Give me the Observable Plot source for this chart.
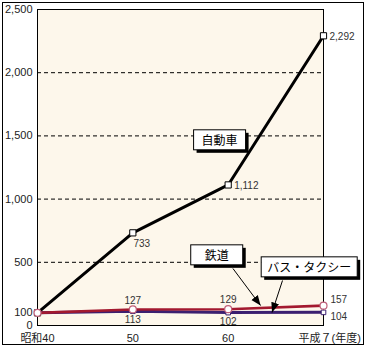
<!DOCTYPE html>
<html><head><meta charset="utf-8">
<script src="https://cdn.jsdelivr.net/npm/d3@7"></script>
<script src="https://cdn.jsdelivr.net/npm/@observablehq/plot@0.6"></script>
<style>
body{margin:0;background:#fff;font-family:"Liberation Sans","Noto Sans CJK JP",sans-serif;}
#wrap{position:relative;width:366px;height:353px;}
#wrap svg{position:absolute;left:0;top:0;}
#border{position:absolute;left:2px;top:2px;width:360px;height:341px;border:1px solid #000;pointer-events:none;z-index:2;}
</style></head>
<body><div id="wrap"><div id="border"></div></div>
<script>
// data (年度: 昭和40, 50, 60, 平成7 = 昭和70)
const years = [40, 50, 60, 70];
const yearLabels = ["昭和40", "50", "60", "平成７(年度)"];
const car = [100, 733, 1112, 2292];      // 自動車
const rail = [100, 127, 129, 157];       // 鉄道
const bus = [100, 113, 102, 104];        // バス・タクシー
const yTicks = [0, 100, 500, 1000, 1500, 2000, 2500];
const gridValues = [500, 1000, 1500, 2000];
// annotation labels (data coordinates)
const annNames = ["自動車", "鉄道", "バス・タクシー"];
const annX = [59.1, 58.8, 68.5];
const annY = [1456, 546, 451];
// arrows from labels to lines
const arrowFromX = [60.5, 65.7];
const arrowFromY = [451, 356];
const arrowToX = [63.4, 64.6];
const arrowToY = [158, 103];

const rows = (vals) => years.map((x, i) => ({x, y: vals[i], i}));
const carD = rows(car), railD = rows(rail), busD = rows(bus);
const ann = annNames.map((t, i) => ({t, x: annX[i], y: annY[i]}));
const arrows = arrowFromX.map((_, i) => ({x1: arrowFromX[i], y1: arrowFromY[i], x2: arrowToX[i], y2: arrowToY[i]}));
const fmt = d3.format(",");

function filledArrow(color, context) {
  const doc = (context && context.document) || document;
  const m = doc.createElementNS("http://www.w3.org/2000/svg", "marker");
  m.setAttribute("viewBox", "-10 -5 10 10");
  m.setAttribute("markerWidth", "10");
  m.setAttribute("markerHeight", "10");
  m.setAttribute("markerUnits", "userSpaceOnUse");
  m.setAttribute("orient", "auto");
  m.setAttribute("fill", "#000");
  m.setAttribute("stroke", "none");
  const p = doc.createElementNS("http://www.w3.org/2000/svg", "path");
  p.setAttribute("d", "M-10,-4L0,0L-10,4Z");
  m.appendChild(p);
  return m;
}

const RED = "#a3192f", NAVY = "#3b1f70";

const chart = Plot.plot({
  width: 366, height: 353,
  marginLeft: 37, marginRight: 43, marginTop: 9, marginBottom: 28,
  style: {fontFamily: '"Liberation Sans","Noto Sans CJK JP",sans-serif', fontSize: "10px", background: "transparent", overflow: "visible"},
  x: {domain: [40, 70]},
  y: {domain: [0, 2500]},
  marks: [
    Plot.frame({fill: "#fdf7eb", stroke: null}),
    Plot.ruleY(gridValues, {stroke: "#000", strokeDasharray: "4,3", strokeWidth: 1}),
    Plot.frame({stroke: "#000", strokeWidth: 1}),
    Plot.axisY({ticks: yTicks, tickFormat: fmt, tickSize: 0, tickPadding: 5, fontSize: 11, fill: "#222", label: null}),
    Plot.axisX({ticks: years.slice(0, 3), tickFormat: (d) => yearLabels[years.indexOf(d)], tickSize: 0, tickPadding: 9, fontSize: 11, fill: "#222", label: null}),
    Plot.axisX({ticks: years.slice(3), tickFormat: (d) => yearLabels[years.indexOf(d)], tickSize: 0, tickPadding: 9, fontSize: 11, fill: "#222", textAnchor: "start", dx: -25, label: null}),
    Plot.line(carD, {x: "x", y: "y", stroke: "#000", strokeWidth: 3}),
    Plot.line(busD, {x: "x", y: "y", stroke: NAVY, strokeWidth: 3}),
    Plot.line(railD, {x: "x", y: "y", stroke: RED, strokeWidth: 2.6}),
    Plot.dot(carD, {x: "x", y: "y", symbol: "square", r: 3.5, fill: "#fff", stroke: "#000", strokeWidth: 1}),
    Plot.dot(busD, {x: "x", y: "y", symbol: "square", r: 2.6, fill: "#fff", stroke: NAVY, strokeWidth: 1}),
    Plot.dot(railD, {x: "x", y: "y", symbol: "circle", r: 3.5, fill: "#fff", stroke: "#c0607a", strokeWidth: 1.2}),
    // value labels
    Plot.text(carD.filter(d => d.i === 1), {x: "x", y: "y", text: d => fmt(d.y), dx: 9, dy: 11, fontSize: 10, fill: "#333"}),
    Plot.text(carD.filter(d => d.i >= 2), {x: "x", y: "y", text: d => fmt(d.y), dx: 6, dy: 1, textAnchor: "start", fontSize: 10, fill: "#333"}),
    Plot.text(railD.filter(d => d.i === 1 || d.i === 2), {x: "x", y: "y", text: d => fmt(d.y), dy: -9, fontSize: 10, fill: "#333"}),
    Plot.text(railD.filter(d => d.i === 3), {x: "x", y: "y", text: d => fmt(d.y), dx: 7, dy: -6, textAnchor: "start", fontSize: 10, fill: "#333"}),
    Plot.text(busD.filter(d => d.i === 1 || d.i === 2), {x: "x", y: "y", text: d => fmt(d.y), dy: 9, fontSize: 10, fill: "#333"}),
    Plot.text(busD.filter(d => d.i === 3), {x: "x", y: "y", text: d => fmt(d.y), dx: 7, dy: 4, textAnchor: "start", fontSize: 10, fill: "#333"}),
    // arrows
    Plot.link(arrows, {x1: "x1", y1: "y1", x2: "x2", y2: "y2", stroke: "#000", strokeWidth: 1, markerEnd: filledArrow}),
    // annotation labels
    Plot.text(ann, {x: "x", y: "y", text: "t", fontSize: 12, fill: "#000", fontFamily: '"Noto Sans CJK JP",sans-serif'})
  ]
});
document.getElementById("wrap").appendChild(chart);

// boxes with drop shadow behind annotation labels
const NS = "http://www.w3.org/2000/svg";
const allTexts = Array.from(chart.querySelectorAll("text")).filter(t => annNames.includes(t.textContent));
if (allTexts.length) {
  const annG = allTexts[0].parentNode;
  const boxG = document.createElementNS(NS, "g");
  allTexts.forEach(t => {
    const b = t.getBBox();
    const tr = t.getAttribute("transform");
    const w = Math.max(b.width + 12, 52);
    const h = b.height + 3;
    const x0 = b.x + b.width / 2 - w / 2, y0 = b.y + b.height / 2 - h / 2;
    const mk = (dx, fill, stroke) => {
      const r = document.createElementNS(NS, "rect");
      r.setAttribute("x", x0 + dx); r.setAttribute("y", y0 + dx);
      r.setAttribute("width", w); r.setAttribute("height", h);
      r.setAttribute("fill", fill);
      if (stroke) { r.setAttribute("stroke", stroke); r.setAttribute("stroke-width", 1); }
      if (tr) r.setAttribute("transform", tr);
      return r;
    };
    boxG.appendChild(mk(3, "#000", null));
    boxG.appendChild(mk(0, "#fff", "#000"));
  });
  annG.parentNode.insertBefore(boxG, annG);
  if (annG.getAttribute("transform")) boxG.setAttribute("transform", annG.getAttribute("transform"));
}
</script>
</body></html>
